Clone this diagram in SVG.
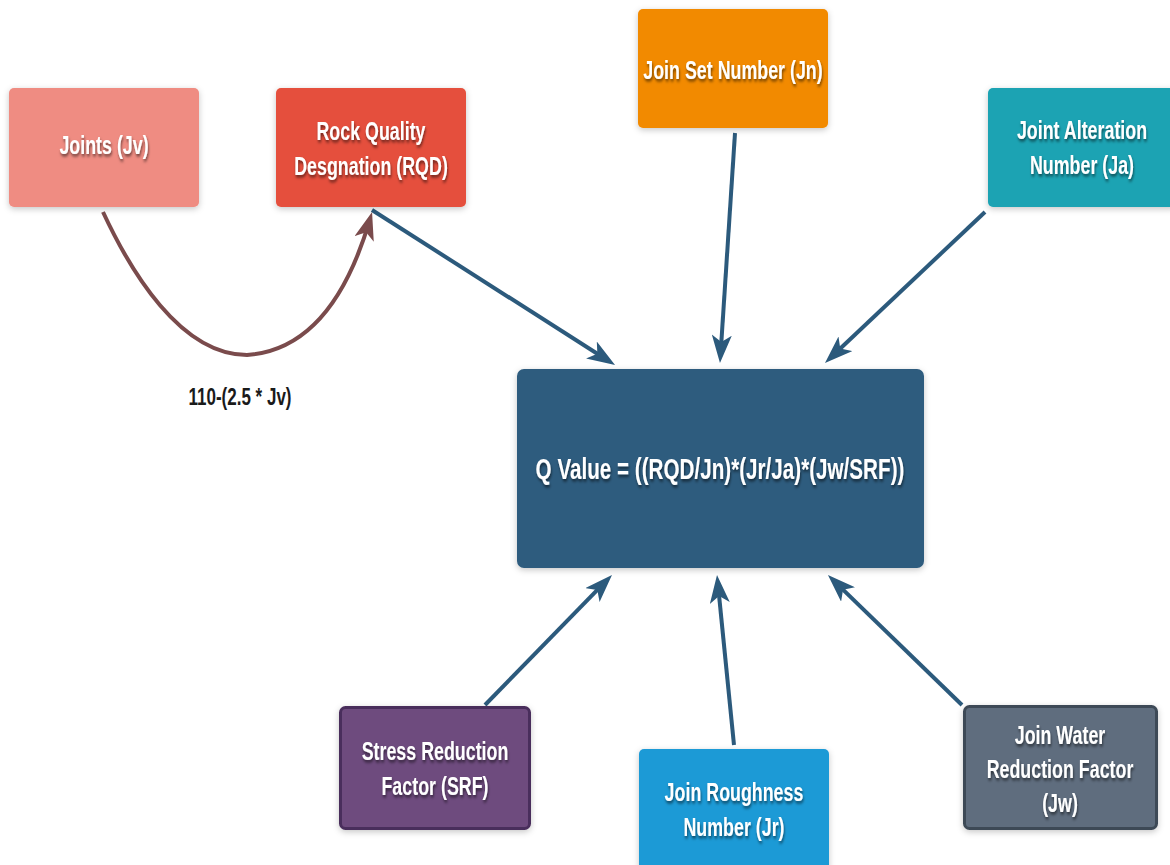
<svg xmlns="http://www.w3.org/2000/svg" width="1170" height="865" viewBox="0 0 1170 865">
  <defs>
    <filter id="bs" x="-10%" y="-10%" width="120%" height="130%">
      <feDropShadow dx="0" dy="2" stdDeviation="3" flood-color="#000" flood-opacity="0.22"/>
    </filter>
    <filter id="ts" x="-10%" y="-30%" width="120%" height="160%">
      <feDropShadow dx="1" dy="2.5" stdDeviation="1.6" flood-color="#000" flood-opacity="0.55"/>
    </filter>
    <marker id="ab" viewBox="0 0 28 20" refX="20" refY="10" markerWidth="28" markerHeight="20" markerUnits="userSpaceOnUse" orient="auto">
      <path d="M0,0 L28,10 L0,20 L7,10 z" fill="#2c5a7c"/>
    </marker>
    <marker id="ar" viewBox="0 0 28 20" refX="20" refY="10" markerWidth="28" markerHeight="20" markerUnits="userSpaceOnUse" orient="auto">
      <path d="M0,0 L28,10 L0,20 L7,10 z" fill="#7a4b4c"/>
    </marker>
  </defs>
  <style>
    .box { filter: url(#bs); }
    .t { font-family: "Liberation Sans", Arial, sans-serif; font-weight: bold; font-size: 25.5px; fill: #ffffff; text-anchor: middle; filter: url(#ts); }
    .q { font-size: 29.5px; }
    .lbl { font-family: "Liberation Sans", Arial, sans-serif; font-weight: bold; font-size: 23px; fill: #1a1a1a; text-anchor: middle; }
    .c { fill: none; stroke: #2c5a7c; stroke-width: 4; marker-end: url(#ab); }
    .cr { fill: none; stroke: #7a4b4c; stroke-width: 4; marker-end: url(#ar); }
  </style>
  <rect width="1170" height="865" fill="#ffffff"/>

  <g id="connectors">
    <path class="cr" d="M103,212 C130,270 180,355 247,355 C320,350 353,277 369.8,219.7"/>
    <line class="c" x1="372" y1="210" x2="608.3" y2="360.7"/>
    <line class="c" x1="735" y1="133" x2="720.5" y2="355"/>
    <line class="c" x1="985" y1="212" x2="830.8" y2="357.5"/>
    <line class="c" x1="485" y1="705" x2="606.4" y2="580.7"/>
    <line class="c" x1="734" y1="745" x2="717.8" y2="583"/>
    <line class="c" x1="962" y1="705" x2="833.7" y2="580.6"/>
    <text class="lbl" transform="matrix(0.74 0 0 1 240 405)">110-(2.5 * Jv)</text>
  </g>

  <g id="joints">
    <rect class="box" x="9" y="88" width="190" height="119" rx="5" fill="#ef8c82"/>
    <text class="t" transform="matrix(0.7 0 0 1 104 154)">Joints (Jv)</text>
  </g>

  <g id="rqd">
    <rect class="box" x="276" y="88" width="190" height="119" rx="5" fill="#e5503c"/>
    <text class="t" transform="matrix(0.7 0 0 1 371 140)">Rock Quality</text>
    <text class="t" transform="matrix(0.7 0 0 1 371 175)">Desgnation (RQD)</text>
  </g>

  <g id="jn">
    <rect class="box" x="638" y="9" width="190" height="119" rx="5" fill="#f28a00"/>
    <text class="t" transform="matrix(0.7 0 0 1 733 79)">Join Set Number (Jn)</text>
  </g>

  <g id="ja">
    <rect class="box" x="988" y="88" width="190" height="119" rx="5" fill="#1aa3b3"/>
    <text class="t" transform="matrix(0.7 0 0 1 1082 139)">Joint Alteration</text>
    <text class="t" transform="matrix(0.7 0 0 1 1082 174)">Number (Ja)</text>
  </g>

  <g id="qvalue">
    <rect class="box" x="517" y="369" width="407" height="199" rx="7" fill="#2d5b7e"/>
    <text class="t q" transform="matrix(0.7 0 0 1 720 479)">Q Value = ((RQD/Jn)*(Jr/Ja)*(Jw/SRF))</text>
  </g>

  <g id="srf">
    <rect class="box" x="340.5" y="707.5" width="189" height="121" rx="5" fill="#6e4c7e" stroke="#4a2d5b" stroke-width="3"/>
    <text class="t" transform="matrix(0.7 0 0 1 435 760)">Stress Reduction</text>
    <text class="t" transform="matrix(0.7 0 0 1 435 795)">Factor (SRF)</text>
  </g>

  <g id="jr">
    <rect class="box" x="639" y="749" width="190" height="130" rx="5" fill="#1e9ad6"/>
    <text class="t" transform="matrix(0.7 0 0 1 734 801)">Join Roughness</text>
    <text class="t" transform="matrix(0.7 0 0 1 734 836)">Number (Jr)</text>
  </g>

  <g id="jw">
    <rect class="box" x="964.5" y="706.5" width="192" height="122" rx="5" fill="#5e6d7e" stroke="#3d4956" stroke-width="3"/>
    <text class="t" transform="matrix(0.7 0 0 1 1060 744)">Join Water</text>
    <text class="t" transform="matrix(0.7 0 0 1 1060 778)">Reduction Factor</text>
    <text class="t" transform="matrix(0.7 0 0 1 1060 812)">(Jw)</text>
  </g>
</svg>
